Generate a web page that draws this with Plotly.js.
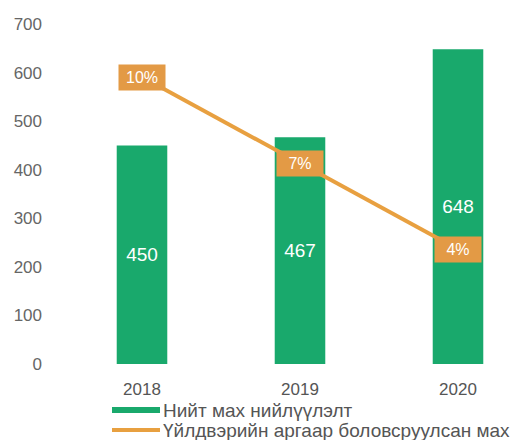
<!DOCTYPE html>
<html>
<head>
<meta charset="utf-8">
<script src="https://cdn.plot.ly/plotly-3.0.1.min.js"></script>
<style>html,body{margin:0;padding:0;background:#fff;}#chart{width:532px;height:440px;}</style>
</head>
<body>
<div id="chart"></div>
<script>
var years = ['2018', '2019', '2020'];
var supplyValues = [450, 467, 648];
var processedShare = [10, 7, 4];
var supplyName = 'Нийт мах нийлүүлэлт';
var processedName = 'Үйлдвэрийн аргаар боловсруулсан мах';
var yTicks = [0, 100, 200, 300, 400, 500, 600, 700];

var GREEN = '#19a96c';
var ORANGE = '#e8a040';
var BOX = '#e39a45';
var FONT = 'Liberation Sans, Arial, sans-serif';

var W = 532, H = 440, ML = 50, MR = 0, MT = 24, MB = 76;
var pw = W - ML - MR, ph = H - MT - MB;
function px(x) { return (x - ML) / pw; }
function py(y) { return (H - MB - y) / ph; }

var bars = {
  type: 'bar', x: years, y: supplyValues, name: supplyName,
  width: 0.32,
  marker: {color: GREEN},
  text: supplyValues.map(String),
  textposition: 'inside', insidetextanchor: 'middle',
  textfont: {color: '#ffffff', size: 19, family: FONT},
  showlegend: false, hoverinfo: 'skip'
};
var line = {
  type: 'scatter', mode: 'lines', x: years, y: processedShare, yaxis: 'y2',
  name: processedName,
  line: {color: ORANGE, width: 4},
  showlegend: false, hoverinfo: 'skip'
};

var annotations = processedShare.map(function (v, i) {
  return {
    x: i, y: v, xref: 'x', yref: 'y2', text: v + '%', showarrow: false,
    xanchor: 'center', yanchor: 'middle',
    bgcolor: BOX, borderpad: 3, width: 40, height: 19,
    font: {color: '#ffffff', size: 16, family: FONT}
  };
});

// custom legend
var legendItems = [
  {name: supplyName, color: GREEN, thick: 6, y: 410},
  {name: processedName, color: ORANGE, thick: 4, y: 430}
];
var shapes = [];
legendItems.forEach(function (it) {
  shapes.push({
    type: 'rect', xref: 'paper', yref: 'paper',
    x0: px(112), x1: px(160), y0: py(it.y + it.thick / 2), y1: py(it.y - it.thick / 2),
    fillcolor: it.color, line: {width: 0}
  });
  annotations.push({
    xref: 'paper', yref: 'paper', x: px(161), y: py(it.y), xanchor: 'left', yanchor: 'middle',
    text: it.name, showarrow: false,
    font: {color: '#555555', size: 19, family: FONT}
  });
});

var ppu = 158, c0 = 142;
var layout = {
  width: W, height: H,
  margin: {l: ML, r: MR, t: MT, b: MB},
  paper_bgcolor: '#ffffff', plot_bgcolor: '#ffffff',
  showlegend: false,
  font: {family: FONT, color: '#666666', size: 16},
  xaxis: {
    type: 'category',
    range: [(ML - c0) / ppu, (W - MR - c0) / ppu],
    showgrid: false, zeroline: false, showline: false, ticks: '',
    tickfont: {size: 17, color: '#555555'}, ticklabelstandoff: 13
  },
  yaxis: {
    range: [0, 700], tickvals: yTicks, ticktext: yTicks.map(String),
    showgrid: false, zeroline: false, showline: false, ticks: '',
    tickfont: {size: 17, color: '#666666'}, ticklabelstandoff: 7
  },
  yaxis2: {
    overlaying: 'y', side: 'right', range: [0, 11.85],
    showgrid: false, zeroline: false, showline: false, showticklabels: false, ticks: ''
  },
  annotations: annotations,
  shapes: shapes
};

Plotly.newPlot('chart', [bars, line], layout, {staticPlot: true, displayModeBar: false});
</script>
</body>
</html>
